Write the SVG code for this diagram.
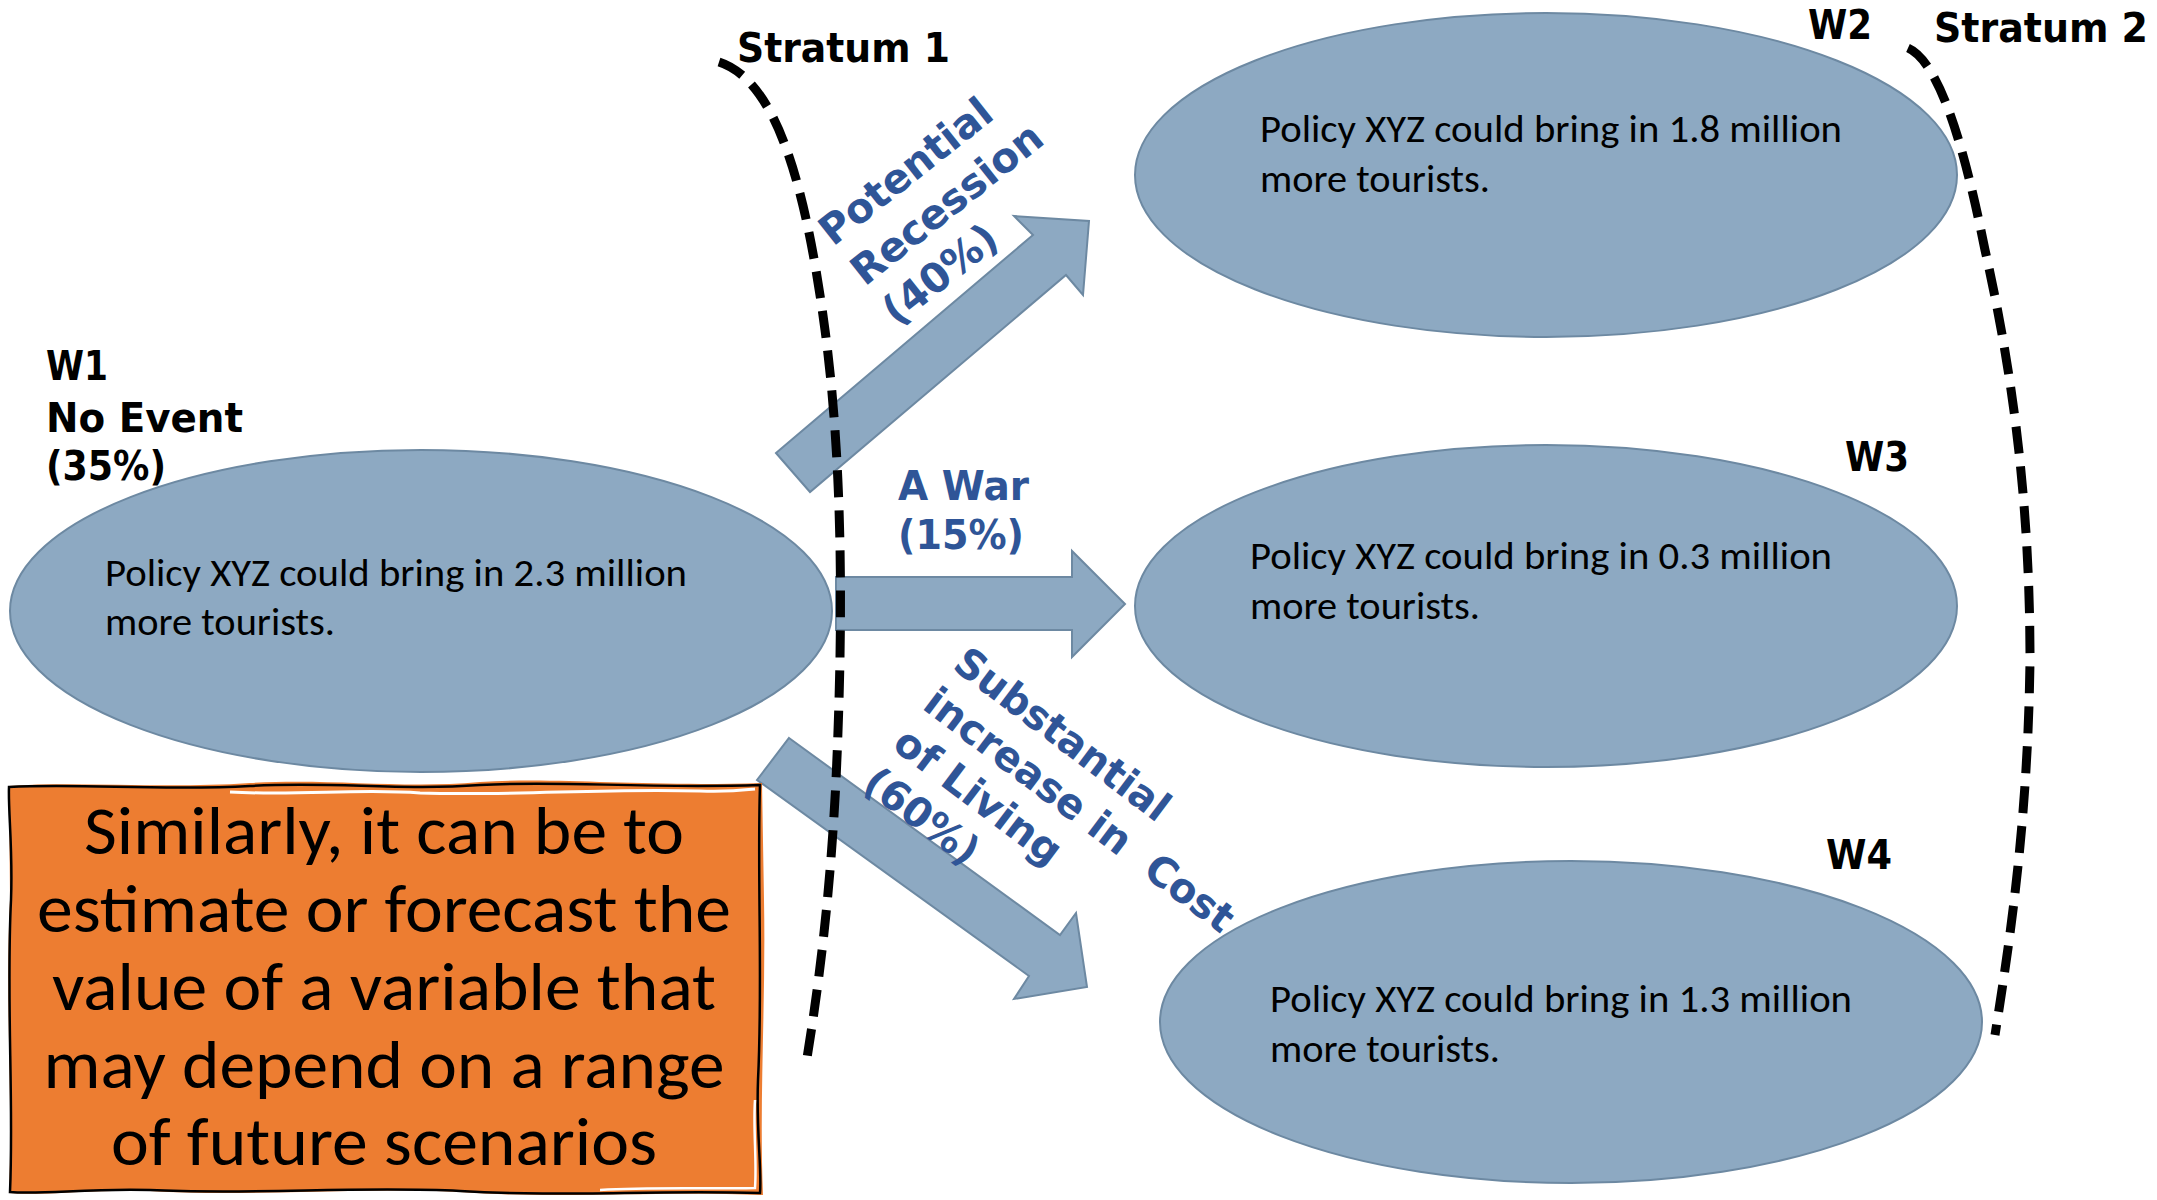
<svg xmlns="http://www.w3.org/2000/svg" width="2157" height="1200" viewBox="0 0 2157 1200">
<style>
.ell{fill:#8DA9C2;stroke:#6D89A2;stroke-width:2}
.arr{fill:#8DA9C2;stroke:#6D89A2;stroke-width:2;stroke-linejoin:miter}
.strat{fill:none;stroke:#000;stroke-width:9;stroke-dasharray:27 13}
.body{font-family:Carlito,Lato,'Open Sans',sans-serif;font-size:38px;fill:#000}
.lbl{font-family:'DejaVu Sans','Liberation Sans',sans-serif;font-weight:bold;font-size:40px;fill:#000}
.blue{font-family:'DejaVu Sans','Liberation Sans',sans-serif;font-weight:bold;font-size:41px;fill:#2F5597}
.note{font-family:Carlito,Lato,'Open Sans',sans-serif;font-weight:300;font-size:68px;fill:#000;text-anchor:middle}
</style>
<rect width="2157" height="1200" fill="#fff"/>

<g id="W1">
<ellipse class="ell" cx="421" cy="611" rx="411" ry="161"/>
<text class="body" x="105" y="586" textLength="582" lengthAdjust="spacingAndGlyphs">Policy XYZ could bring in 2.3 million</text>
<text class="body" x="105" y="635" textLength="230" lengthAdjust="spacingAndGlyphs">more tourists.</text>
<text class="lbl" x="46" y="380" textLength="62" lengthAdjust="spacingAndGlyphs">W1</text>
<text class="lbl" x="46" y="432" textLength="197" lengthAdjust="spacingAndGlyphs">No Event</text>
<text class="lbl" x="46" y="480" textLength="120" lengthAdjust="spacingAndGlyphs">(35%)</text>
</g>

<g id="W2">
<ellipse class="ell" cx="1546" cy="175" rx="411" ry="162"/>
<text class="body" x="1260" y="142" textLength="582" lengthAdjust="spacingAndGlyphs">Policy XYZ could bring in 1.8 million</text>
<text class="body" x="1260" y="192" textLength="230" lengthAdjust="spacingAndGlyphs">more tourists.</text>
<text class="lbl" x="1808" y="39" textLength="64" lengthAdjust="spacingAndGlyphs">W2</text>
</g>

<g id="W3">
<ellipse class="ell" cx="1546" cy="606" rx="411" ry="161"/>
<text class="body" x="1250" y="569" textLength="582" lengthAdjust="spacingAndGlyphs">Policy XYZ could bring in 0.3 million</text>
<text class="body" x="1250" y="619" textLength="230" lengthAdjust="spacingAndGlyphs">more tourists.</text>
<text class="lbl" x="1845" y="471" textLength="64" lengthAdjust="spacingAndGlyphs">W3</text>
</g>

<g id="W4">
<ellipse class="ell" cx="1571" cy="1022" rx="411" ry="161"/>
<text class="body" x="1270" y="1012" textLength="582" lengthAdjust="spacingAndGlyphs">Policy XYZ could bring in 1.3 million</text>
<text class="body" x="1270" y="1062" textLength="230" lengthAdjust="spacingAndGlyphs">more tourists.</text>
<text class="lbl" x="1826" y="869" textLength="66" lengthAdjust="spacingAndGlyphs">W4</text>
</g>

<g id="connectors">
<polygon class="arr" points="776,453 1033,235 1014,216 1089,221 1083,295 1066,275 810,492"/>
<polygon class="arr" points="836,577 1072,577 1072,551 1125,604 1072,657 1072,630 836,630"/>
<polygon class="arr" points="789,738 1060,935 1076,913 1087,987 1014,999 1029,976 757,780"/>
</g>

<g id="edge-labels">
<g transform="translate(833,247) rotate(-38.5)">
<text class="blue" x="0" y="0" textLength="208" lengthAdjust="spacingAndGlyphs">Potential</text>
<text class="blue" x="0" y="51" textLength="232" lengthAdjust="spacingAndGlyphs">Recession</text>
<text class="blue" x="0" y="102" textLength="134" lengthAdjust="spacingAndGlyphs">(40%)</text>
</g>
<text class="blue" x="898" y="500" textLength="131" lengthAdjust="spacingAndGlyphs">A War</text>
<text class="blue" x="898" y="549" textLength="126" lengthAdjust="spacingAndGlyphs">(15%)</text>
<g transform="translate(951,668) rotate(37)">
<text class="blue" x="0" y="0" textLength="258" lengthAdjust="spacingAndGlyphs">Substantial</text>
<text class="blue" x="0" y="50" textLength="376" lengthAdjust="spacingAndGlyphs" xml:space="preserve">increase in  Cost</text>
<text class="blue" x="0" y="100" textLength="198" lengthAdjust="spacingAndGlyphs">of Living</text>
<text class="blue" x="0" y="150" textLength="132" lengthAdjust="spacingAndGlyphs">(60%)</text>
</g>
</g>

<g id="stratum1">
<path class="strat" d="M719,62 C775,80 805,180 825,330 C845,480 842,650 836,780 C830,900 818,990 807,1058"/>
<text class="lbl" x="737" y="62" font-size="41" textLength="213" lengthAdjust="spacingAndGlyphs">Stratum 1</text>
</g>

<g id="stratum2">
<path class="strat" d="M1908,48 C1940,62 1965,150 1985,250 C2012,370 2030,500 2030,660 C2028,820 2010,940 1995,1035"/>
<text class="lbl" x="1934" y="42" textLength="214" lengthAdjust="spacingAndGlyphs">Stratum 2</text>
</g>

<g id="note">
<path d="M9,786 C80,781 160,789 250,783 C330,778 400,789 480,782 C560,777 640,787 762,783 L764,900 C766,1000 759,1100 763,1195 C650,1191 560,1199 460,1192 C360,1187 250,1197 150,1191 C90,1189 40,1196 9,1193 C13,1100 5,1000 10,900 Z" fill="#ED7D31"/>
<path d="M9,787 C80,783 160,791 250,786 C330,781 400,791 480,785 C560,780 640,789 760,785 C757,880 763,980 758,1080 C756,1130 762,1170 760,1193 C650,1190 560,1197 460,1191 C360,1186 250,1195 150,1190 C90,1188 40,1195 10,1192 C14,1100 6,1000 11,900 C13,850 8,810 9,787 Z" fill="none" stroke="#000" stroke-width="2.5"/>
<path d="M230,792 C300,796 360,788 420,793 C520,796 600,788 700,791 C730,792 745,790 755,789" fill="none" stroke="#fff" stroke-width="3"/>
<path d="M755,1100 C753,1130 757,1160 755,1188 C700,1189 650,1187 600,1190" fill="none" stroke="#fff" stroke-width="2.5"/>
<text class="note" x="384" y="854" textLength="600" lengthAdjust="spacingAndGlyphs">Similarly, it can be to</text>
<text class="note" x="384" y="932" textLength="694" lengthAdjust="spacingAndGlyphs">estimate or forecast the</text>
<text class="note" x="384" y="1010" textLength="664" lengthAdjust="spacingAndGlyphs">value of a variable that</text>
<text class="note" x="384" y="1088" textLength="681" lengthAdjust="spacingAndGlyphs">may depend on a range</text>
<text class="note" x="384" y="1165" textLength="546" lengthAdjust="spacingAndGlyphs">of future scenarios</text>
</g>
</svg>
